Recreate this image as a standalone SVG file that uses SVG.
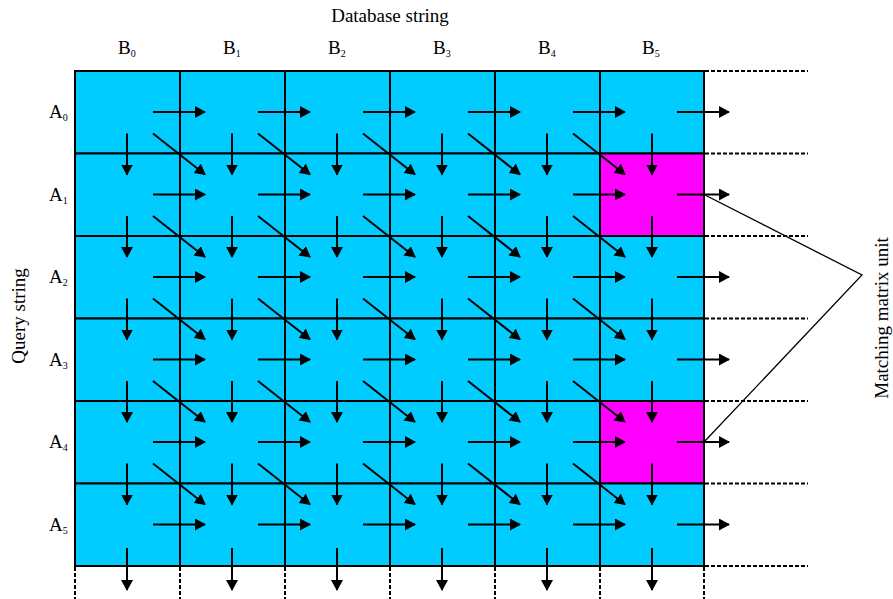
<svg xmlns="http://www.w3.org/2000/svg" width="893" height="599" viewBox="0 0 893 599">
  <style>
    .cell { fill: #00CCFF; stroke: #000; stroke-width: 2; }
    .hit { fill: #FF00FF; }
    .arr { stroke: #000; stroke-width: 2; fill: none; marker-end: url(#head); }
    .dash { stroke: #000; stroke-width: 2; stroke-dasharray: 4 2; fill: none; }
    .call { stroke: #000; stroke-width: 1.3; fill: none; }
    text { font-family: "Liberation Serif", "Times New Roman", serif; fill: #000; }
    .lab { font-size: 19px; }
    .sub { font-size: 10px; }
  </style>
  <defs>
    <marker id="head" viewBox="0 0 11 12" refX="10" refY="6" markerWidth="11" markerHeight="12" markerUnits="userSpaceOnUse" orient="auto">
      <path d="M0,0 L11,6 L0,12 z" fill="#000"/>
    </marker>
  </defs>
  <rect width="893" height="599" fill="#fff"/>

  <!-- matrix cells: row r, column c -->
  <g id="cells">
    <g id="cell-0-0"><rect class="cell" x="75" y="71" width="105" height="82.5"/></g>
    <g id="cell-0-1"><rect class="cell" x="180" y="71" width="105" height="82.5"/></g>
    <g id="cell-0-2"><rect class="cell" x="285" y="71" width="105" height="82.5"/></g>
    <g id="cell-0-3"><rect class="cell" x="390" y="71" width="105" height="82.5"/></g>
    <g id="cell-0-4"><rect class="cell" x="495" y="71" width="105" height="82.5"/></g>
    <g id="cell-0-5"><rect class="cell" x="600" y="71" width="104" height="82.5"/></g>

    <g id="cell-1-0"><rect class="cell" x="75" y="153.5" width="105" height="82.5"/></g>
    <g id="cell-1-1"><rect class="cell" x="180" y="153.5" width="105" height="82.5"/></g>
    <g id="cell-1-2"><rect class="cell" x="285" y="153.5" width="105" height="82.5"/></g>
    <g id="cell-1-3"><rect class="cell" x="390" y="153.5" width="105" height="82.5"/></g>
    <g id="cell-1-4"><rect class="cell" x="495" y="153.5" width="105" height="82.5"/></g>
    <g id="cell-1-5"><rect class="cell hit" x="600" y="153.5" width="104" height="82.5"/></g>

    <g id="cell-2-0"><rect class="cell" x="75" y="236" width="105" height="82.5"/></g>
    <g id="cell-2-1"><rect class="cell" x="180" y="236" width="105" height="82.5"/></g>
    <g id="cell-2-2"><rect class="cell" x="285" y="236" width="105" height="82.5"/></g>
    <g id="cell-2-3"><rect class="cell" x="390" y="236" width="105" height="82.5"/></g>
    <g id="cell-2-4"><rect class="cell" x="495" y="236" width="105" height="82.5"/></g>
    <g id="cell-2-5"><rect class="cell" x="600" y="236" width="104" height="82.5"/></g>

    <g id="cell-3-0"><rect class="cell" x="75" y="318.5" width="105" height="82.5"/></g>
    <g id="cell-3-1"><rect class="cell" x="180" y="318.5" width="105" height="82.5"/></g>
    <g id="cell-3-2"><rect class="cell" x="285" y="318.5" width="105" height="82.5"/></g>
    <g id="cell-3-3"><rect class="cell" x="390" y="318.5" width="105" height="82.5"/></g>
    <g id="cell-3-4"><rect class="cell" x="495" y="318.5" width="105" height="82.5"/></g>
    <g id="cell-3-5"><rect class="cell" x="600" y="318.5" width="104" height="82.5"/></g>

    <g id="cell-4-0"><rect class="cell" x="75" y="401" width="105" height="82.5"/></g>
    <g id="cell-4-1"><rect class="cell" x="180" y="401" width="105" height="82.5"/></g>
    <g id="cell-4-2"><rect class="cell" x="285" y="401" width="105" height="82.5"/></g>
    <g id="cell-4-3"><rect class="cell" x="390" y="401" width="105" height="82.5"/></g>
    <g id="cell-4-4"><rect class="cell" x="495" y="401" width="105" height="82.5"/></g>
    <g id="cell-4-5"><rect class="cell hit" x="600" y="401" width="104" height="82.5"/></g>

    <g id="cell-5-0"><rect class="cell" x="75" y="483.5" width="105" height="82.5"/></g>
    <g id="cell-5-1"><rect class="cell" x="180" y="483.5" width="105" height="82.5"/></g>
    <g id="cell-5-2"><rect class="cell" x="285" y="483.5" width="105" height="82.5"/></g>
    <g id="cell-5-3"><rect class="cell" x="390" y="483.5" width="105" height="82.5"/></g>
    <g id="cell-5-4"><rect class="cell" x="495" y="483.5" width="105" height="82.5"/></g>
    <g id="cell-5-5"><rect class="cell" x="600" y="483.5" width="104" height="82.5"/></g>
  </g>

  <!-- open boundary continuing past the matrix -->
  <g id="boundary">
    <path class="dash" d="M705,71H808 M705,153.5H808 M705,236H808 M705,318.5H808 M705,401H808 M705,483.5H808 M705,566H808"/>
    <path class="dash" d="M75,567V599 M180,567V599 M285,567V599 M390,567V599 M495,567V599 M600,567V599 M704,567V599"/>
  </g>

  <g id="connectors">
    <!-- horizontal flow -->
    <path class="arr" d="M153,112H205"/><path class="arr" d="M258,112H310"/><path class="arr" d="M363,112H415"/><path class="arr" d="M468,112H520"/><path class="arr" d="M573,112H625"/><path class="arr" d="M677,112H729"/>
    <path class="arr" d="M153,194.5H205"/><path class="arr" d="M258,194.5H310"/><path class="arr" d="M363,194.5H415"/><path class="arr" d="M468,194.5H520"/><path class="arr" d="M573,194.5H625"/><path class="arr" d="M677,194.5H729"/>
    <path class="arr" d="M153,277H205"/><path class="arr" d="M258,277H310"/><path class="arr" d="M363,277H415"/><path class="arr" d="M468,277H520"/><path class="arr" d="M573,277H625"/><path class="arr" d="M677,277H729"/>
    <path class="arr" d="M153,359.5H205"/><path class="arr" d="M258,359.5H310"/><path class="arr" d="M363,359.5H415"/><path class="arr" d="M468,359.5H520"/><path class="arr" d="M573,359.5H625"/><path class="arr" d="M677,359.5H729"/>
    <path class="arr" d="M153,442H205"/><path class="arr" d="M258,442H310"/><path class="arr" d="M363,442H415"/><path class="arr" d="M468,442H520"/><path class="arr" d="M573,442H625"/><path class="arr" d="M677,442H729"/>
    <path class="arr" d="M153,524.5H205"/><path class="arr" d="M258,524.5H310"/><path class="arr" d="M363,524.5H415"/><path class="arr" d="M468,524.5H520"/><path class="arr" d="M573,524.5H625"/><path class="arr" d="M677,524.5H729"/>

    <!-- vertical flow -->
    <path class="arr" d="M127,133.5V174.5"/><path class="arr" d="M127,216V257"/><path class="arr" d="M127,298.5V339.5"/><path class="arr" d="M127,381V422"/><path class="arr" d="M127,463.5V504.5"/><path class="arr" d="M127,548V590"/>
    <path class="arr" d="M232,133.5V174.5"/><path class="arr" d="M232,216V257"/><path class="arr" d="M232,298.5V339.5"/><path class="arr" d="M232,381V422"/><path class="arr" d="M232,463.5V504.5"/><path class="arr" d="M232,548V590"/>
    <path class="arr" d="M337,133.5V174.5"/><path class="arr" d="M337,216V257"/><path class="arr" d="M337,298.5V339.5"/><path class="arr" d="M337,381V422"/><path class="arr" d="M337,463.5V504.5"/><path class="arr" d="M337,548V590"/>
    <path class="arr" d="M442,133.5V174.5"/><path class="arr" d="M442,216V257"/><path class="arr" d="M442,298.5V339.5"/><path class="arr" d="M442,381V422"/><path class="arr" d="M442,463.5V504.5"/><path class="arr" d="M442,548V590"/>
    <path class="arr" d="M547,133.5V174.5"/><path class="arr" d="M547,216V257"/><path class="arr" d="M547,298.5V339.5"/><path class="arr" d="M547,381V422"/><path class="arr" d="M547,463.5V504.5"/><path class="arr" d="M547,548V590"/>
    <path class="arr" d="M652,133.5V174.5"/><path class="arr" d="M652,216V257"/><path class="arr" d="M652,298.5V339.5"/><path class="arr" d="M652,381V422"/><path class="arr" d="M652,463.5V504.5"/><path class="arr" d="M652,548V590"/>

    <!-- diagonal flow -->
    <path class="arr" d="M153,133.5L205,174.5"/><path class="arr" d="M258,133.5L310,174.5"/><path class="arr" d="M363,133.5L415,174.5"/><path class="arr" d="M468,133.5L520,174.5"/><path class="arr" d="M573,133.5L625,174.5"/>
    <path class="arr" d="M153,216L205,257"/><path class="arr" d="M258,216L310,257"/><path class="arr" d="M363,216L415,257"/><path class="arr" d="M468,216L520,257"/><path class="arr" d="M573,216L625,257"/>
    <path class="arr" d="M153,298.5L205,339.5"/><path class="arr" d="M258,298.5L310,339.5"/><path class="arr" d="M363,298.5L415,339.5"/><path class="arr" d="M468,298.5L520,339.5"/><path class="arr" d="M573,298.5L625,339.5"/>
    <path class="arr" d="M153,381L205,422"/><path class="arr" d="M258,381L310,422"/><path class="arr" d="M363,381L415,422"/><path class="arr" d="M468,381L520,422"/><path class="arr" d="M573,381L625,422"/>
    <path class="arr" d="M153,463.5L205,504.5"/><path class="arr" d="M258,463.5L310,504.5"/><path class="arr" d="M363,463.5L415,504.5"/><path class="arr" d="M468,463.5L520,504.5"/><path class="arr" d="M573,463.5L625,504.5"/>

    <!-- callout to the highlighted units -->
    <path class="call" d="M704,194.5L862,275L704,442"/>
  </g>

  <g id="labels">
    <text class="lab" x="390" y="22" text-anchor="middle">Database string</text>
    <text class="lab" x="118" y="54">B<tspan class="sub" dy="3">0</tspan></text>
    <text class="lab" x="223" y="54">B<tspan class="sub" dy="3">1</tspan></text>
    <text class="lab" x="328" y="54">B<tspan class="sub" dy="3">2</tspan></text>
    <text class="lab" x="433" y="54">B<tspan class="sub" dy="3">3</tspan></text>
    <text class="lab" x="538" y="54">B<tspan class="sub" dy="3">4</tspan></text>
    <text class="lab" x="642" y="54">B<tspan class="sub" dy="3">5</tspan></text>

    <text class="lab" x="49" y="118">A<tspan class="sub" dy="3">0</tspan></text>
    <text class="lab" x="49" y="200.5">A<tspan class="sub" dy="3">1</tspan></text>
    <text class="lab" x="49" y="283">A<tspan class="sub" dy="3">2</tspan></text>
    <text class="lab" x="49" y="365.5">A<tspan class="sub" dy="3">3</tspan></text>
    <text class="lab" x="49" y="448">A<tspan class="sub" dy="3">4</tspan></text>
    <text class="lab" x="49" y="530.5">A<tspan class="sub" dy="3">5</tspan></text>

    <text class="lab" transform="translate(25,316) rotate(-90)" text-anchor="middle">Query string</text>
    <text class="lab" transform="translate(888,318) rotate(-90)" text-anchor="middle">Matching matrix unit</text>
  </g>
</svg>
